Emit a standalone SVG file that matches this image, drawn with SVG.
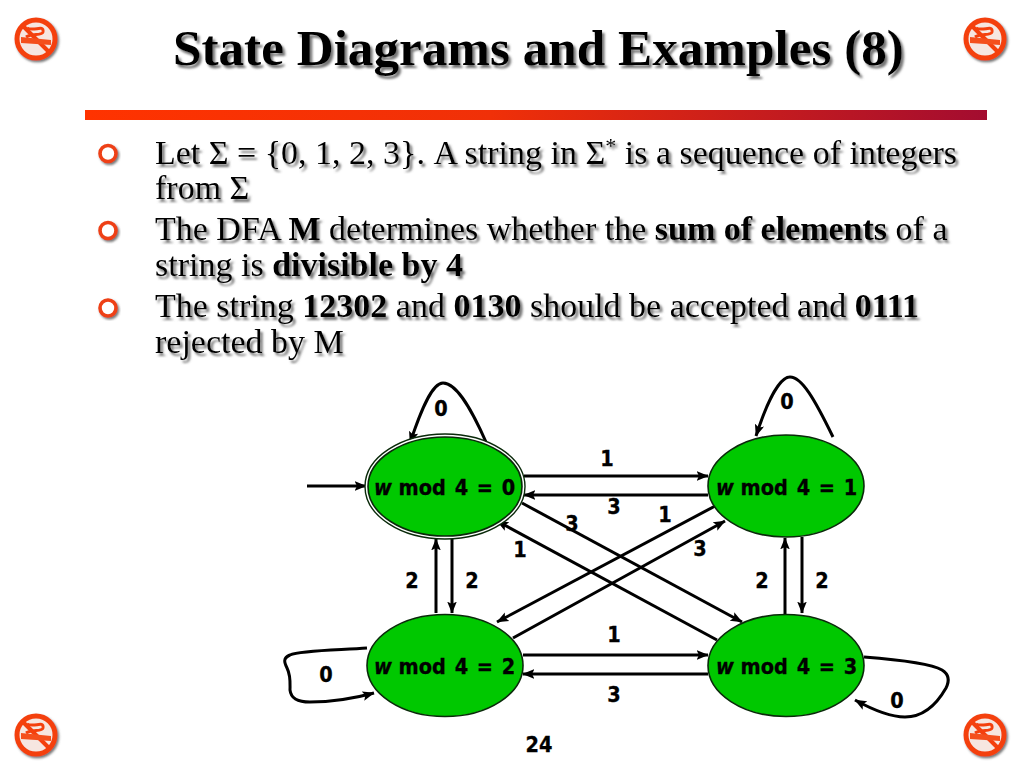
<svg xmlns="http://www.w3.org/2000/svg" xmlns:xlink="http://www.w3.org/1999/xlink" width="1024" height="768" viewBox="0 0 1024 768">
<style>
.title{font-family:"Liberation Serif","Times New Roman",serif;font-weight:700;font-size:51.2px;fill:#000}
.body{font-family:"Liberation Serif","Times New Roman",serif;font-size:34px;fill:#000}
.b{font-weight:700}
.lab{font-family:"DejaVu Sans Condensed","DejaVu Sans",sans-serif;font-stretch:condensed;font-weight:700;font-size:21.5px;fill:#000;stroke:#000;stroke-width:.3;text-anchor:middle}
.st{font-family:"DejaVu Sans Condensed","DejaVu Sans",sans-serif;font-stretch:condensed;font-weight:700;font-size:21.5px;fill:#000;stroke:#000;stroke-width:.3;word-spacing:2px}
.st .w{font-style:italic}
.node{fill:#00c800;stroke:#0a2a0a;stroke-width:1.6}
.c{fill:none;stroke:#000;stroke-width:3;marker-end:url(#arr)}
.bullet{fill:#fff;stroke:#ee3f14;stroke-width:3.6}
</style>
<defs>
<linearGradient id="bar" x1="0" x2="1" y1="0" y2="0">
<stop offset="0" stop-color="#ff3300"/><stop offset=".45" stop-color="#f03008"/><stop offset="1" stop-color="#a30c30"/>
</linearGradient>
<filter id="sh" x="-5%" y="-20%" width="110%" height="140%">
<feDropShadow dx="2.5" dy="3" stdDeviation=".9" flood-color="#666" flood-opacity=".9"/>
</filter>
<filter id="shi" x="-20%" y="-20%" width="150%" height="150%">
<feDropShadow dx="1.5" dy="1.8" stdDeviation="1" flood-color="#555" flood-opacity=".8"/>
</filter>
<marker id="arr" viewBox="0 0 10 10" refX="9.5" refY="5" markerWidth="12" markerHeight="12" markerUnits="userSpaceOnUse" orient="auto">
<path d="M0 1 L10 5 L0 9 L2 5 Z" fill="#000"/>
</marker>
<g id="nosmoke" filter="url(#shi)">
<circle cx="0" cy="0" r="19" fill="#f6e6e0" stroke="#f4400f" stroke-width="5"/>
<path d="M-13 -13 L13 13" stroke="#f4400f" stroke-width="4" fill="none"/>
<path d="M-15 -2 L15 1 V6 L-15 4 Z" fill="#f4501f"/>
<path d="M-9 -11 C-2 -7 8 -15 7 -7 C6 -3 -4 -6 -10 -2" stroke="#f4400f" stroke-width="3" fill="none"/>
</g>
</defs>
<rect width="1024" height="768" fill="#fff"/>
<g id="decor">
<use xlink:href="#nosmoke" href="#nosmoke" x="36" y="39"/>
<use xlink:href="#nosmoke" href="#nosmoke" x="985" y="39"/>
<use xlink:href="#nosmoke" href="#nosmoke" x="36" y="735"/>
<use xlink:href="#nosmoke" href="#nosmoke" x="985" y="735"/>
<rect x="85" y="110" width="902" height="10" fill="url(#bar)"/>
<circle class="bullet" cx="108" cy="153.5" r="8" filter="url(#shi)"/>
<circle class="bullet" cx="108" cy="230.5" r="8" filter="url(#shi)"/>
<circle class="bullet" cx="108" cy="308" r="8" filter="url(#shi)"/>
</g>
<text class="title" x="173" y="65" filter="url(#sh)">State Diagrams and Examples (8)</text>
<g id="bodytext" filter="url(#sh)">
<text class="body" x="155" y="164">Let Σ = {0, 1, 2, 3}. A string in Σ<tspan font-size="22" dy="-11">*</tspan><tspan dy="11"> is a sequence of integers</tspan></text>
<text class="body" x="155" y="199">from Σ</text>
<text class="body" x="155" y="240">The DFA <tspan class="b">M</tspan> determines whether the <tspan class="b">sum of elements</tspan> of a</text>
<text class="body" x="155" y="276">string is <tspan class="b">divisible by 4</tspan></text>
<text class="body" x="155" y="317">The string <tspan class="b">12302</tspan> and <tspan class="b">0130</tspan> should be accepted and <tspan class="b">0111</tspan></text>
<text class="body" x="155" y="353">rejected by M</text>
</g>
<g id="connectors">
<path class="c" d="M307 486H366"/>
<path class="c" d="M486 442C474 415 458 383 443 383C432 383 421 410 410 443"/>
<path class="c" d="M833 437C815 400 802 377 790 377C779 377 766 405 756 436"/>
<path class="c" d="M367 648C340 650 300 650 290 655C283 658 284 662 287 668C291 676 290 684 290 690C291 699 298 702 310 702C330 702 352 699 374 693"/>
<path class="c" d="M864 657C890 659 930 663 942 670C950 675 949 682 946 688C938 702 925 717 905 717C890 717 875 711 855 700"/>
<path class="c" d="M524 476H708"/>
<path class="c" d="M708 495H524"/>
<path class="c" d="M523 655H708"/>
<path class="c" d="M708 674H523"/>
<path class="c" d="M436 613V539"/>
<path class="c" d="M452 539V613"/>
<path class="c" d="M785 614V538"/>
<path class="c" d="M802 537V613"/>
<path class="c" d="M522 503L742 622"/>
<path class="c" d="M717 640L497 521"/>
<path class="c" d="M717 505L497 622"/>
<path class="c" d="M513 638L725 521"/>
</g>
<g id="labels">
<text class="lab" x="441" y="416">0</text>
<text class="lab" x="787" y="409">0</text>
<text class="lab" x="607" y="466">1</text>
<text class="lab" x="614" y="514">3</text>
<text class="lab" x="572" y="531">3</text>
<text class="lab" x="665" y="522">1</text>
<text class="lab" x="520" y="557">1</text>
<text class="lab" x="700" y="556">3</text>
<text class="lab" x="412" y="588">2</text>
<text class="lab" x="472" y="588">2</text>
<text class="lab" x="762" y="588">2</text>
<text class="lab" x="822" y="588">2</text>
<text class="lab" x="614" y="642">1</text>
<text class="lab" x="614" y="702">3</text>
<text class="lab" x="326" y="682">0</text>
<text class="lab" x="897" y="708">0</text>
<text class="lab" x="539" y="752">24</text>
</g>
<g id="state0">
<ellipse cx="445" cy="486.5" rx="80" ry="52.5" fill="#fff" stroke="#0a2a0a" stroke-width="1.4"/>
<ellipse class="node" cx="445" cy="486.5" rx="77" ry="49.5"/>
<text class="st" x="374" y="495"><tspan class="w">w</tspan><tspan dx="-2"> mod 4 = 0</tspan></text>
</g>
<g id="state1">
<ellipse class="node" cx="786" cy="486" rx="78" ry="51"/>
<text class="st" x="716" y="495"><tspan class="w">w</tspan><tspan dx="-2"> mod 4 = 1</tspan></text>
</g>
<g id="state2">
<ellipse class="node" cx="445" cy="665.5" rx="78" ry="51"/>
<text class="st" x="374" y="674"><tspan class="w">w</tspan><tspan dx="-2"> mod 4 = 2</tspan></text>
</g>
<g id="state3">
<ellipse class="node" cx="786" cy="665.5" rx="78" ry="51"/>
<text class="st" x="716" y="674"><tspan class="w">w</tspan><tspan dx="-2"> mod 4 = 3</tspan></text>
</g>
</svg>
